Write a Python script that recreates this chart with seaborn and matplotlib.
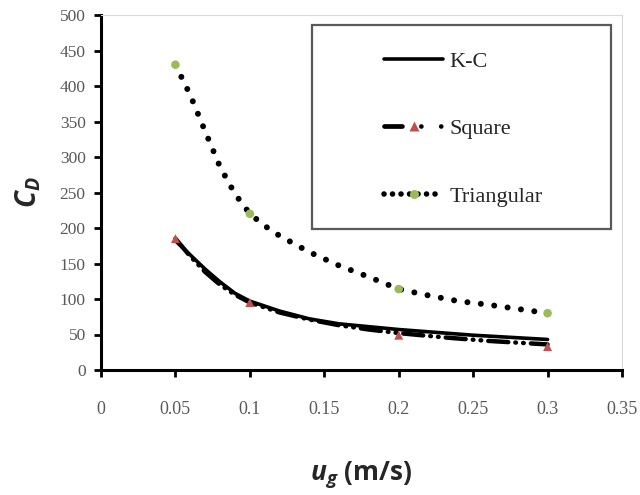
import numpy as np
import pandas as pd
import matplotlib
matplotlib.use("Agg")
import matplotlib.pyplot as plt
import seaborn as sns
from matplotlib.lines import Line2D
from matplotlib.patches import Rectangle

# ---- data ----
u_meas = [0.05, 0.1, 0.2, 0.3]
square_meas = [185, 95, 49, 33]
triangular_meas = [430, 220, 114, 80]

u_kc = [0.05, 0.06, 0.07, 0.08, 0.09, 0.10, 0.12, 0.14, 0.16, 0.18, 0.20, 0.25, 0.30]
kc_curve = [182, 162, 142, 124, 108, 97, 83, 72, 65, 61, 57, 49, 43]

u_sq = [0.05, 0.06, 0.07, 0.08, 0.09, 0.10, 0.12, 0.14, 0.16, 0.18, 0.20, 0.23, 0.26, 0.30]
square_curve = [185, 160, 138, 120, 106, 95, 81, 71, 63, 57, 52, 46, 41, 36]

u_tri = [0.05, 0.06, 0.07, 0.08, 0.09, 0.10, 0.11, 0.12, 0.14, 0.16, 0.18, 0.20,
         0.22, 0.24, 0.26, 0.28, 0.30]
tri_curve = [430, 387, 336, 286, 248, 220, 203, 189, 166, 147, 131, 114,
             105, 97, 92, 86, 80]

x_ticks = [0, 0.05, 0.1, 0.15, 0.2, 0.25, 0.3, 0.35]
x_tick_labels = ["0", "0.05", "0.1", "0.15", "0.2", "0.25", "0.3", "0.35"]
y_ticks = [0, 50, 100, 150, 200, 250, 300, 350, 400, 450, 500]
series_names = ["K-C", "Square", "Triangular"]

# ---- style ----
sns.set_style("white")
plt.rcParams["font.family"] = ["Liberation Serif", "DejaVu Serif"]
plt.rcParams["mathtext.fontset"] = "custom"
plt.rcParams["mathtext.rm"] = "Open Sans"
plt.rcParams["mathtext.bf"] = "Open Sans:bold"
plt.rcParams["mathtext.it"] = "Open Sans:italic:bold"
plt.rcParams["mathtext.bfit"] = "Open Sans:italic:bold"

fig = plt.figure(figsize=(6.4, 4.95), dpi=100)
ax = fig.add_axes([101 / 640, 1 - 370 / 495, 521 / 640, 355 / 495])

red = "#c0504d"
green = "#9bbb59"

sq_style = (0, (4.5, 1.6, 0.15, 1.6, 0.15, 1.6))
tri_style = (0, (0.01, 2.25))

sns.lineplot(x=u_sq, y=square_curve, ax=ax, color="black", lw=3.2,
             linestyle=sq_style, dash_capstyle="round", sort=False,
             estimator=None, zorder=2)
sns.lineplot(x=u_kc, y=kc_curve, ax=ax, color="black", lw=2.6,
             sort=False, estimator=None, zorder=3)
sns.lineplot(x=u_tri, y=tri_curve, ax=ax, color="black", lw=4.3,
             linestyle=tri_style, dash_capstyle="round", sort=False,
             estimator=None, zorder=3)
sns.scatterplot(x=u_meas, y=square_meas, ax=ax, marker="^", color=red,
                s=42, edgecolor="none", zorder=4)
sns.scatterplot(x=u_meas, y=triangular_meas, ax=ax, marker="o", color=green,
                s=38, edgecolor="none", zorder=4)

ax.set_xlim(0, 0.35)
ax.set_ylim(0, 500)
ax.set_xticks(x_ticks)
ax.set_xticklabels(x_tick_labels)
ax.set_yticks(y_ticks)

for side in ["left", "bottom"]:
    ax.spines[side].set_color("black")
    ax.spines[side].set_linewidth(2.2)
for side in ["top", "right"]:
    ax.spines[side].set_color("#d9d9d9")
    ax.spines[side].set_linewidth(0.8)

ax.tick_params(axis="both", which="major", direction="out", length=5, width=2,
               color="black", labelcolor="#595959", left=True, bottom=True)
ax.tick_params(axis="x", pad=17, labelsize=13)
ax.tick_params(axis="y", pad=6, labelsize=12.5)

ax.set_ylabel(r"$\mathbfit{C}_{\mathbfit{D}}$", fontsize=20, labelpad=12)
ax.set_xlabel(r"$\mathbfit{u}_{\mathbfit{g}}$ (m/s)", fontsize=19,
              fontweight="bold", family="Open Sans", labelpad=30)

# legend
handles = [
    Line2D([], [], color="black", lw=2.6),
    Line2D([], [], color="black", lw=3.4,
           linestyle=(0, (3.8, 4.0, 0.01, 4.2, 0.01, 20)),
           dash_capstyle="round", marker="^", markerfacecolor=red,
           markeredgecolor="none", markersize=7),
    Line2D([], [], color="black", lw=4.0, linestyle=(0, (0.01, 1.52)),
           dash_capstyle="round", marker="o", markerfacecolor=green,
           markeredgecolor="none", markersize=6.5),
]

leg = ax.legend(handles, series_names, loc="upper left",
                bbox_to_anchor=(0.522, 0.93), frameon=False, numpoints=1,
                fontsize=16, handlelength=2.66, handletextpad=0.3,
                labelspacing=2.12, borderpad=0)
ax.add_patch(Rectangle((0.405, 0.397), 0.574, 0.575, transform=ax.transAxes,
                       fill=False, edgecolor="#595959", lw=1.6, zorder=5,
                       clip_on=False))

fig.savefig("out.png", dpi=100)
